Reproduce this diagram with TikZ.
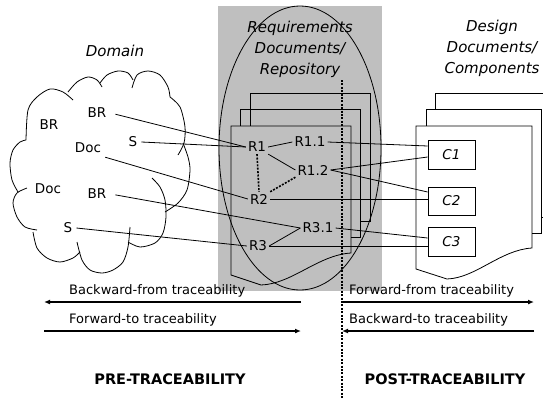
\documentclass[tikz,border=0pt]{standalone}
\usepackage{fontspec}
\setmainfont{DejaVu Sans}
\usetikzlibrary{arrows.meta,calc}
\begin{document}
\begin{tikzpicture}[x=1pt,y=-1pt,
  lbl/.style={font=\fontsize{13.5}{15}\selectfont, inner sep=2pt},
  dom/.style={font=\fontsize{13.5}{15}\selectfont, inner sep=4pt},
  ttl/.style={font=\fontsize{15}{21}\selectfont\itshape, align=center},
  link/.style={line width=0.8pt},
  dotlink/.style={line width=1.6pt, dash pattern=on 2pt off 1.4pt},
  pageline/.style={line width=0.8pt},
  comp/.style={draw, line width=0.8pt, minimum width=47pt, minimum height=29pt, inner sep=0pt, font=\fontsize{13.5}{15}\selectfont\itshape},
  trace/.style={line width=2pt},
  tip/.style={-{Latex[length=6pt,width=5pt]}},
  tlabel/.style={font=\fontsize{13}{15}\selectfont, anchor=west, inner sep=0pt},
  phase/.style={font=\fontsize{14.5}{16}\selectfont\bfseries}
]
\useasboundingbox (0,0) rectangle (543,399);

% repository background
\fill[gray!50] (218,6) rectangle (382,291);
\draw[line width=0.8pt] (300,148) ellipse [x radius=81pt, y radius=142pt];

% requirement document stack
\draw[pageline] (250,126) -- (250,93) -- (370,93) -- (370,221) -- (361,221);
\draw[pageline] (240,126) -- (240,109) -- (360,109) -- (360,237) -- (351,237);
\draw[pageline] (231,126) -- (351,126) -- (351,253) .. controls (318,255) and (292,284) .. (261,285) -- (231,275) -- cycle;

% design document stack
\draw[pageline] (435,109) -- (435,93) -- (548,93) -- (548,217) -- (541,217);
\draw[pageline] (426,126) -- (426,109) -- (541,109) -- (541,233) -- (532,233);
\draw[pageline] (416,126) -- (532,126) -- (532,248) .. controls (500,250) and (476,278) .. (447,279) -- (416,269) -- cycle;

% domain cloud
\begin{scope}[line width=0.8pt]
\draw plot[smooth] coordinates {(26,140) (28,110) (37,97) (50,89) (63,92) (73,100)};
\draw plot[smooth] coordinates {(68,92) (77,82) (88,77) (97,80) (102,87)};
\draw plot[smooth] coordinates {(100,83) (107,75) (118,71) (128,73) (133,80)};
\draw plot[smooth] coordinates {(132,88) (137,75) (148,71) (160,75) (168,87) (170,97)};
\draw plot[smooth] coordinates {(170,97) (180,107) (185,127) (184,143) (178,155)};
\draw plot[smooth] coordinates {(183,143) (188,157) (190,170) (187,190) (178,203) (165,212)};
\draw plot[smooth] coordinates {(152,178) (160,187) (165,200) (166,217) (163,233) (155,243) (140,247) (128,242)};
\draw plot[smooth] coordinates {(130,227) (128,247) (123,262) (113,270) (102,273) (90,270) (82,260) (77,242)};
\draw plot[smooth] coordinates {(80,252) (73,258) (60,262) (47,258) (37,248) (33,232)};
\draw plot[smooth] coordinates {(37,230) (25,227) (17,217) (13,203) (17,193) (27,188)};
\draw plot[smooth] coordinates {(18,192) (12,180) (10,163) (13,150) (20,142) (26,140)};
\end{scope}

% titles
\node[ttl] (tdom) at (115,51) {Domain};
\node[ttl] (treq) at (300,49) {Requirements\\Documents/\\Repository};
\node[ttl] (tdes) at (492,48) {Design\\Documents/\\Components};

% domain labels
\node[dom] (brA) at (97,113) {BR};
\node[dom] (brB) at (49,125) {BR};
\node[dom] (sA) at (133,142) {S};
\node[dom] (docA) at (88,148) {Doc};
\node[dom] (docB) at (48,189) {Doc};
\node[dom] (brC) at (97,194) {BR};
\node[dom] (sB) at (68,228) {S};

% requirement labels
\node[lbl] (r1) at (257,147) {R1};
\node[lbl] (r11) at (310,142) {R1.1};
\node[lbl] (r12) at (313,170) {R1.2};
\node[lbl] (r2) at (259,199) {R2};
\node[lbl] (r31) at (318,228) {R3.1};
\node[lbl] (r3) at (258,246) {R3};

% components
\node[comp] (c1) at (451.5,154.5) {C1};
\node[comp, minimum height=28pt] (c2) at (451.5,201) {C2};
\node[comp] (c3) at (451.5,241.5) {C3};

% dotted boundary
\coordinate (vtop) at (342,80);
\coordinate (vbot) at (342,399);
\draw[dotlink] (vtop) -- (vbot);

% links domain -> requirements
\draw[link, shorten <=5pt] (brA.east) -- (r1.west);
\draw[link] (sA.east) -- (r1.west);
\draw[link] (docA.south east) -- (r2.west);
\draw[link, shorten <=5pt] (brC.east) -- (r31.west);
\draw[link] (sB.east) -- (r3.west);

% links inside repository
\draw[link] (r1.east) -- (r11.west);
\draw[link] (r1.south east) -- (r12.west);
\draw[dotlink] (r1.south) -- (r2.north);
\draw[dotlink] (r2.north east) -- (r12.south west);
\draw[link] (r3.east) -- (r31.west);

% links requirements -> components
\draw[link] (r11.east) -- ([yshift=8.5pt]c1.west);
\draw[link] (r12.east) -- ([yshift=-2.5pt]c1.west);
\draw[link] (r12.east) -- ([yshift=9pt]c2.west);
\draw[link] (r2.east) -- (r2.east -| c2.west);
\draw[link] (r31.east) -- ([yshift=3.5pt]c3.west);
\draw[link] (r3.east) -- (r3.east -| c3.west);

% traceability arrows
\coordinate (bfL) at (44,302);  \coordinate (bfR) at (301,302);
\coordinate (ftL) at (44,331);  \coordinate (ftR) at (301,331);
\coordinate (ffL) at (342,302); \coordinate (ffR) at (534,302);
\coordinate (btL) at (342,331); \coordinate (btR) at (534,331);
\draw[trace,tip] (bfR) -- (bfL);
\draw[trace,tip] (ftL) -- (ftR);
\draw[trace,tip] (ffL) -- (ffR);
\draw[trace,tip] (btR) -- (btL);

\node[tlabel] (lbf) at (69,291) {Backward-from traceability};
\node[tlabel] (lft) at (69,320) {Forward-to traceability};
\node[tlabel] (lff) at (349,291) {Forward-from traceability};
\node[tlabel] (lbt) at (349,320) {Backward-to traceability};

\node[phase] (pre) at (170,379) {PRE-TRACEABILITY};
\node[phase] (post) at (445,379) {POST-TRACEABILITY};
\end{tikzpicture}
\end{document}
